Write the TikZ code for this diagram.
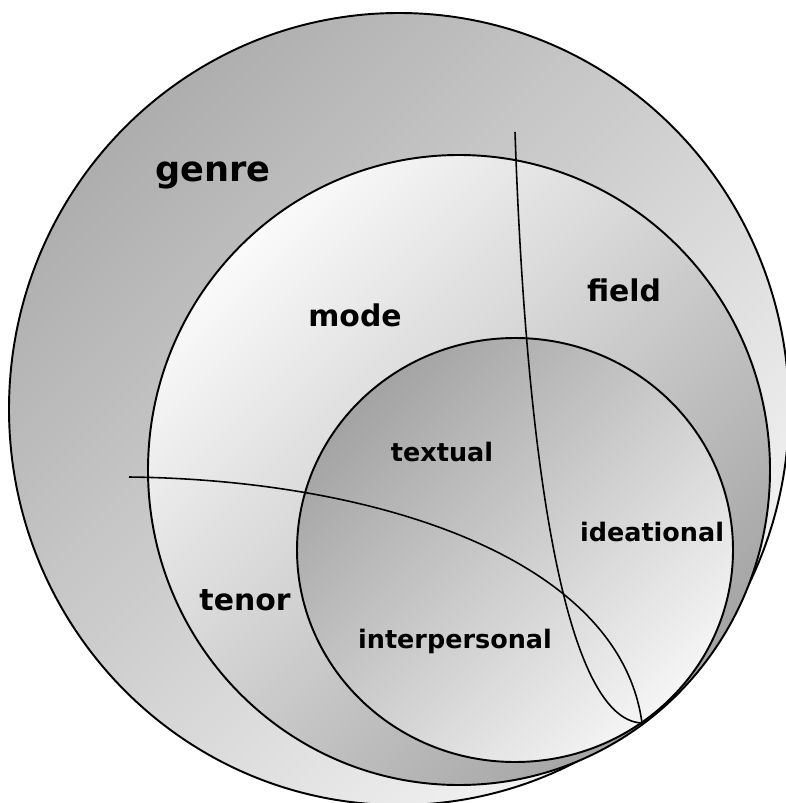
\documentclass[tikz,border=0pt]{standalone}
\usepackage{fontspec}
\setmainfont{DejaVu Sans}
\usepackage{tikz}

\begin{document}
\begin{tikzpicture}[x=0.02cm, y=-0.02cm,
  ring/.style={draw=black, line width=1.1pt},
  cut/.style={draw=black, line width=0.9pt},
  big/.style={font=\bfseries\fontsize{20}{24}\selectfont, inner sep=0pt},
  mid/.style={font=\bfseries\fontsize{17}{20}\selectfont, inner sep=0pt},
  small/.style={font=\bfseries\fontsize{14.5}{17}\selectfont, inner sep=0pt}]

\useasboundingbox (0,0) rectangle (785,803);

% circles
\draw[ring, top color=black!32, bottom color=black!4, shading angle=45] (399,409) ellipse [x radius=390, y radius=396];
\draw[ring, top color=black!2, bottom color=black!36, shading angle=45] (459,470) ellipse [x radius=311, y radius=315];
\draw[ring, top color=black!36, bottom color=black!4, shading angle=45] (515,550) ellipse [x radius=218, y radius=212];

% dividing lines
\coordinate (touch) at (642,723);
\coordinate (topend) at (515,132);
\coordinate (leftend) at (129,477);
\draw[cut] (topend) .. controls (525,430) and (560,720) .. (touch);
\draw[cut] (leftend) .. controls (380,480) and (620,560) .. (touch);

% labels
\node[big] (genre) at (213,175) {genre};
\node[mid] (mode) at (355,315) {mode};
\node[mid] (field) at (624,290) {field};
\node[mid] (tenor) at (245,600) {tenor};
\node[small] (textual) at (442,452) {textual};
\node[small] (ideational) at (652,532) {ideational};
\node[small] (interpersonal) at (455,641) {interpersonal};

\end{tikzpicture}
\end{document}
